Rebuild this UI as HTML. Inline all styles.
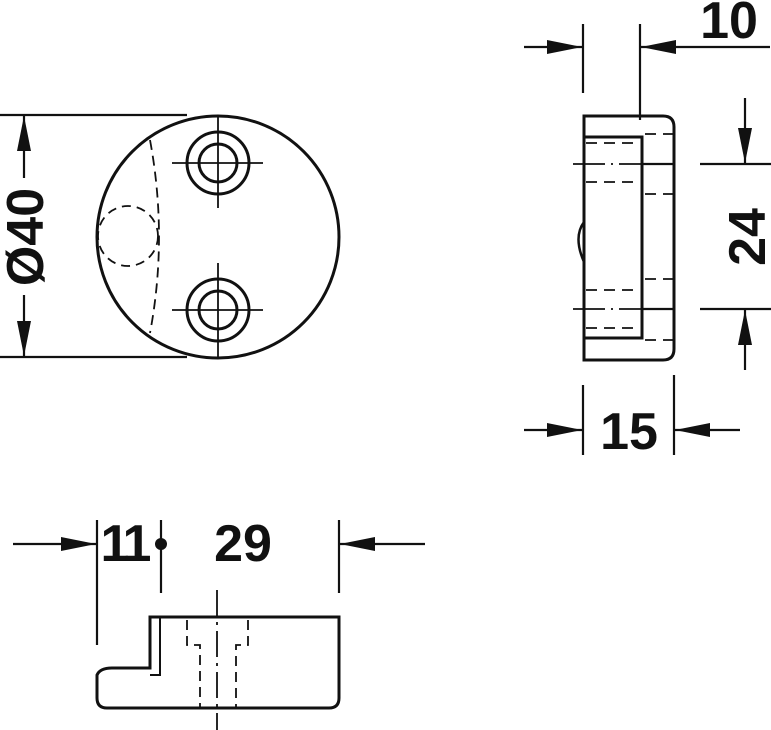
<!DOCTYPE html>
<html><head><meta charset="utf-8"><style>
html,body{margin:0;padding:0;background:#fff}
svg{display:block}
text{font-family:"Liberation Sans",Arial,sans-serif;font-weight:bold;fill:#111}
</style></head><body>
<svg width="771" height="730" viewBox="0 0 771 730" xmlns="http://www.w3.org/2000/svg">
<defs>
<marker id="a" viewBox="0 0 35 14" refX="35" refY="7" markerWidth="35" markerHeight="14" markerUnits="userSpaceOnUse" orient="auto"><path d="M0,0 L35,7 L0,14 Z" fill="#111"/></marker>
</defs>
<g stroke="#111" fill="none" stroke-width="2.2">
<line x1="0" y1="115" x2="187" y2="115"/>
<line x1="0" y1="357" x2="187" y2="357"/>
<line x1="24" y1="178" x2="24" y2="116" marker-end="url(#a)"/>
<line x1="24" y1="295" x2="24" y2="356" marker-end="url(#a)"/>
<circle cx="218" cy="237" r="121" stroke-width="3"/>
<path d="M150,140 Q168,237 150,333" stroke-dasharray="10,6" stroke-width="1.8"/>
<circle cx="128" cy="236" r="30" stroke-dasharray="9,6" stroke-width="1.8"/>
<g stroke-width="3">
<circle cx="218" cy="163" r="31"/><circle cx="218" cy="163" r="19"/>
<circle cx="218" cy="310" r="31"/><circle cx="218" cy="310" r="19"/>
</g>
<g stroke-width="1.8">
<line x1="172" y1="163" x2="263" y2="163"/><line x1="218" y1="117" x2="218" y2="208"/>
<line x1="172" y1="310" x2="263" y2="310"/><line x1="218" y1="263" x2="218" y2="358"/>
</g>
<line x1="583" y1="24" x2="583" y2="93"/>
<line x1="640" y1="24" x2="640" y2="120"/>
<line x1="524" y1="47" x2="582" y2="47" marker-end="url(#a)"/>
<line x1="770" y1="47" x2="641" y2="47" marker-end="url(#a)"/>
<path d="M584,360 L584,116 L663,116 Q674,116 674,127 L674,349 Q674,360 663,360 Z" stroke-width="3"/>
<path d="M584,137 L642,137 L642,338 L584,338" stroke-width="3"/>
<path d="M584,222 Q573,237 584,262" stroke-width="2.5"/>
<g stroke-dasharray="11,7" stroke-width="1.8">
<line x1="586" y1="143" x2="640" y2="143"/><line x1="586" y1="182" x2="640" y2="182"/>
<line x1="586" y1="290" x2="640" y2="290"/><line x1="586" y1="328" x2="640" y2="328"/>
<line x1="645" y1="134" x2="674" y2="134"/><line x1="645" y1="194" x2="674" y2="194"/>
<line x1="645" y1="279" x2="674" y2="279"/><line x1="645" y1="340" x2="674" y2="340"/>
</g>
<g stroke-dasharray="32,6,2,6" stroke-width="1.8">
<line x1="573" y1="164" x2="642" y2="164"/><line x1="573" y1="309" x2="642" y2="309"/>
</g>
<line x1="642" y1="164" x2="674" y2="164"/><line x1="642" y1="309" x2="674" y2="309"/>
<line x1="700" y1="164" x2="771" y2="164"/><line x1="700" y1="309" x2="771" y2="309"/>
<line x1="745" y1="98" x2="745" y2="163" marker-end="url(#a)"/>
<line x1="745" y1="370" x2="745" y2="310" marker-end="url(#a)"/>
<line x1="583" y1="385" x2="583" y2="455"/>
<line x1="674" y1="375" x2="674" y2="455"/>
<line x1="524" y1="430" x2="582" y2="430" marker-end="url(#a)"/>
<line x1="740" y1="430" x2="675" y2="430" marker-end="url(#a)"/>
<line x1="97" y1="520" x2="97" y2="645"/>
<line x1="161" y1="520" x2="161" y2="593"/>
<line x1="339" y1="520" x2="339" y2="593"/>
<line x1="13" y1="544" x2="96" y2="544" marker-end="url(#a)"/>
<line x1="425" y1="544" x2="340" y2="544" marker-end="url(#a)"/>
<path d="M150,668 L150,617 L339,617 L339,698 Q339,708 329,708 L107,708 Q97,708 97,698 L97,675 Q100,668 112,668 Z" stroke-width="3"/>
<path d="M160,617 L160,675 L150,675" stroke-width="2"/>
<g stroke-dasharray="10,6" stroke-width="1.8">
<path d="M187,620 L187,645 L200,645 L200,708"/>
<path d="M248,620 L248,645 L236,645 L236,708"/>
</g>
<line x1="217" y1="590" x2="217" y2="730" stroke-dasharray="26,6,3,6" stroke-width="1.8"/>
</g>
<circle cx="161" cy="544" r="6" fill="#111"/>
<text x="0" y="0" font-size="52" text-anchor="middle" transform="translate(43,237) rotate(-90)">Ø40</text>
<text x="729" y="38" font-size="52" text-anchor="middle">10</text>
<text x="0" y="0" font-size="52" text-anchor="middle" transform="translate(765,237) rotate(-90)">24</text>
<text x="629" y="449" font-size="52" text-anchor="middle">15</text>
<text x="124" y="561" font-size="52" text-anchor="middle" letter-spacing="-4">11</text>
<text x="243" y="561" font-size="52" text-anchor="middle">29</text>
</svg>
</body></html>
